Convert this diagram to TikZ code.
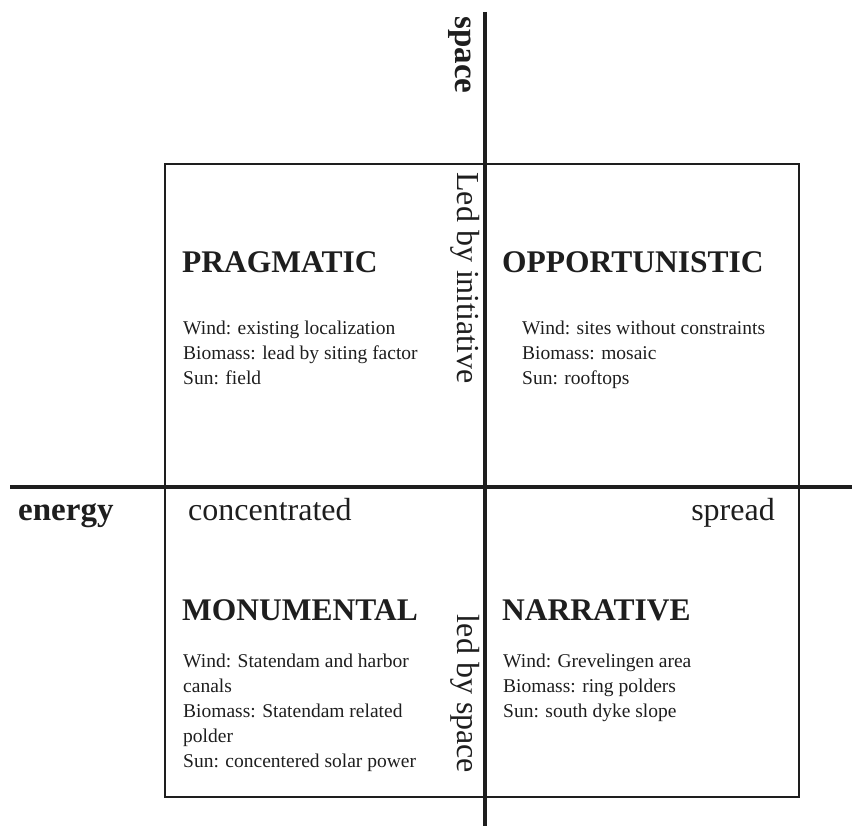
\documentclass[tikz,border=0pt]{standalone}
\usepackage{fontspec}
\setmainfont{Liberation Serif}
\usetikzlibrary{positioning}
\definecolor{ink}{HTML}{1E1E1E}

\begin{document}
\begin{tikzpicture}[
        x=1pt, y=-1pt,
        every node/.style={inner sep=0pt, text=ink},
        axis/.style={
            draw=ink,
            line width=4pt
        },
        frame/.style={
            draw=ink,
            line width=2pt
        },
        heading/.style={
            font=\fontsize{31.5}{36}\selectfont\bfseries,
            anchor=base west
        },
        body/.style={
            font=\fontsize{19.5}{25}\selectfont,
            align=left,
            anchor=north west
        },
        axislabel/.style={
            font=\fontsize{33}{38}\selectfont\bfseries
        },
        sidelabel/.style={
            font=\fontsize{32}{38}\selectfont
        }
    ]

    \useasboundingbox (0,0) rectangle (852,826);

    % Frame round the four quadrants
    \coordinate (nw) at (165,164);
    \coordinate (se) at (799,797);
    \draw[frame] (nw) rectangle (se);

    % Axes
    \coordinate (top) at (485,12);
    \coordinate (bottom) at (485,826);
    \coordinate (left) at (10,487);
    \coordinate (right) at (852,487);
    \draw[axis] (top) -- (bottom);
    \draw[axis] (left) -- (right);

    % Axis labels
    \node[axislabel, rotate=-90] (space) at (460,55) {space};
    \node[axislabel, anchor=base west] (energy) at (18,520) {energy};
    \node[sidelabel, anchor=base west] (conc) at (188,520) {concentrated};
    \node[sidelabel, anchor=base east] (spread) at (775,520) {spread};
    \node[sidelabel, rotate=-90] (initiative) at (465,278) {Led by initiative};
    \node[sidelabel, rotate=-90] (byspace) at (465,694) {led by space};

    % Pragmatic
    \node[heading] (prag) at (182,273) {PRAGMATIC};
    \node[body] (pragtxt) at (183,321)
        {Wind: existing localization\\
         Biomass: lead by siting factor\\
         Sun: field};

    % Opportunistic
    \node[heading] (oppo) at (502,273) {OPPORTUNISTIC};
    \node[body] (oppotxt) at (522,321)
        {Wind: sites without constraints\\
         Biomass: mosaic\\
         Sun: rooftops};

    % Monumental
    \node[heading] (monu) at (182,620) {MONUMENTAL};
    \node[body] (monutxt) at (183,654)
        {Wind: Statendam and harbor\\
         canals\\
         Biomass: Statendam related\\
         polder\\
         Sun: concentered solar power};

    % Narrative
    \node[heading] (narr) at (502,620) {NARRATIVE};
    \node[body] (narrtxt) at (503,654)
        {Wind: Grevelingen area\\
         Biomass: ring polders\\
         Sun: south dyke slope};

\end{tikzpicture}
\end{document}
